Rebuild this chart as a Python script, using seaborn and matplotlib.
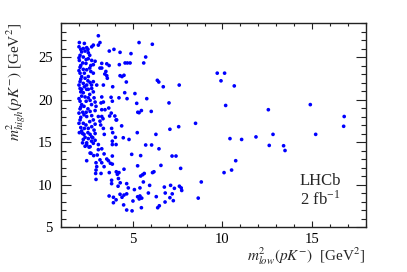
import matplotlib
matplotlib.use("Agg")
import matplotlib.pyplot as plt
import seaborn as sns
import pandas as pd
from matplotlib.ticker import MultipleLocator

# ---- data: (m2_low, m2_high) ----
x_band_top = [3.08, 2.02, 2.71, 2.80, 3.08, 3.17, 2.24, 2.43, 2.15, 2.34, 2.52, 2.06, 2.24, 2.52, 2.71,
              2.02, 2.21, 2.39, 2.90, 2.80, 2.66, 3.27, 3.17, 2.06, 2.24, 2.43, 2.66, 2.80, 2.06, 2.15,
              2.34, 2.52, 2.06, 2.24, 2.43, 2.62, 2.80, 2.99, 3.36, 2.15, 2.52]
y_band_top = [27.5, 26.7, 26.2, 26.4, 26.4, 26.7, 26.0, 26.1, 25.6, 25.7, 25.5, 25.2, 25.0, 24.8, 24.6,
              24.6, 24.3, 24.25, 24.5, 24.1, 24.0, 24.25, 23.7, 23.8, 23.55, 23.5, 23.3, 23.1, 23.1, 22.7,
              22.5, 22.7, 22.1, 21.9, 21.7, 22.0, 22.1, 21.7, 21.7, 21.2, 21.2]

x_band_mid = [2.06, 2.43, 2.80, 2.71, 2.24, 2.15, 2.34, 2.52, 2.62, 2.06, 2.15, 2.28, 2.84, 2.90, 2.95,
              2.06, 2.21, 2.28, 2.43, 2.62, 2.71, 2.80, 3.08, 3.17, 2.06, 2.24, 2.39, 2.52, 2.71, 2.84,
              2.15, 2.28, 2.62, 2.77, 2.02, 3.36, 3.41, 3.82, 3.88, 2.24, 2.43, 2.34, 3.08,
              2.34, 2.52, 2.71, 2.90, 2.80, 2.43, 2.62]
y_band_mid = [21.3, 21.2, 20.9, 21.3, 20.8, 20.4, 20.3, 20.2, 19.9, 19.8, 19.4, 19.2, 20.2, 19.7, 19.2,
              18.9, 18.5, 18.2, 18.0, 18.6, 18.1, 17.6, 18.0, 17.45, 17.6, 17.2, 17.0, 16.6, 16.8, 16.4,
              16.3, 15.9, 15.9, 15.5, 16.1, 16.6, 15.9, 16.6, 16.1, 15.3, 14.9, 14.5, 14.7,
              15.55, 15.4, 15.6, 15.2, 14.85, 14.65, 14.45]

x_band_fill = [2.00, 2.10, 2.00, 2.10, 2.00, 2.10, 2.00, 2.10, 2.00, 2.10, 2.00, 2.10, 2.00, 2.10, 2.20,
               2.30, 2.50, 2.60, 2.40, 2.60, 2.30, 2.50, 2.70, 2.30, 2.60, 2.40, 2.70, 2.50, 2.40, 2.90,
               2.60, 2.90, 2.30, 2.50, 2.90, 2.20, 2.70]
y_band_fill = [26.2, 25.9, 24.9, 24.0, 23.4, 22.4, 21.7, 20.9, 20.1, 19.1, 18.4, 17.9, 17.2, 16.7, 16.0,
               26.6, 25.9, 25.2, 24.7, 23.7, 23.1, 22.2, 21.7, 21.5, 20.6, 19.8, 19.4, 18.9, 18.5, 18.7,
               17.4, 17.1, 16.6, 16.1, 16.0, 14.9, 15.1]

x_low_left = [2.56, 3.08, 2.62, 2.67, 2.82, 3.02, 2.43, 2.95, 2.99, 2.95, 2.93, 2.95]
y_low_left = [14.4, 14.1, 13.7, 13.67, 13.4, 13.47, 12.8, 12.56, 12.1, 11.7, 11.3, 10.6]

x_upper = [5.35, 6.09, 3.95, 3.69, 4.29, 4.90, 5.72, 3.55, 3.68, 4.25, 4.57, 4.70, 4.85, 5.61, 3.27,
           3.50, 3.44, 3.55, 3.58, 4.29, 4.40, 4.51, 4.64, 6.37, 6.45, 6.70, 7.59, 3.88, 4.55, 5.12,
           4.23, 4.68, 5.78, 3.79, 3.86, 3.36, 3.23, 5.22, 7.02, 3.27, 3.66, 3.45, 3.27, 5.48, 5.35,
           5.28, 6.03, 3.80, 3.71, 4.00, 3.27, 3.34, 4.07, 4.10, 4.38, 7.56, 7.07, 8.50, 3.21, 5.25,
           6.29, 4.03, 4.47, 4.79]
y_upper = [26.7, 26.5, 25.9, 25.7, 25.55, 25.4, 25.0, 24.2, 24.0, 24.1, 24.3, 24.3, 24.3, 24.3, 23.7,
           23.3, 23.0, 22.8, 22.5, 22.8, 22.7, 22.85, 22.06, 22.26, 22.06, 21.5, 21.7, 21.5, 20.8, 20.7,
           20.2, 20.1, 20.1, 20.26, 19.8, 19.7, 19.6, 19.55, 19.6, 20.3, 19.0, 18.8, 18.8, 18.7, 18.45,
           18.5, 18.6, 18.4, 18.06, 18.06, 18.0, 17.74, 17.6, 17.6, 16.9, 16.8, 16.5, 17.2, 17.0, 16.1,
           15.9, 15.55, 15.5, 15.3]

x_lower = [3.86, 3.86, 4.07, 5.72, 6.05, 6.46, 3.27, 3.40, 3.86, 4.94, 5.44, 7.19, 7.41, 3.55, 3.64,
           3.75, 3.86, 3.17, 3.27, 3.40, 5.27, 6.57, 4.51, 3.69, 3.23, 4.08, 4.23, 4.14, 5.55, 5.44,
           5.64, 6.10, 6.18, 7.67, 3.82, 3.82, 4.20, 4.30, 5.59, 4.66, 4.18, 4.75, 5.09, 5.40, 5.94,
           6.76, 7.11, 7.32, 7.60, 7.70, 7.73, 5.87, 6.81, 7.20, 4.29, 4.51, 4.40, 4.66, 3.68, 5.27,
           5.40, 5.50, 5.36, 3.92, 4.07, 5.01, 6.31, 7.07, 7.26, 6.80, 3.92, 4.49, 6.48, 6.39, 5.48,
           4.66, 4.96, 8.65]
y_lower = [15.1, 14.7, 14.7, 14.65, 14.65, 14.2, 14.2, 13.6, 13.35, 13.55, 13.4, 13.35, 13.35, 13.0, 12.8,
           12.5, 12.4, 12.9, 12.56, 12.1, 12.2, 12.25, 11.8, 11.4, 11.3, 11.5, 11.4, 11.2, 11.15, 11.0,
           11.3, 11.4, 11.5, 11.9, 10.5, 10.1, 10.7, 10.2, 10.3, 10.1, 9.8, 9.6, 9.4, 9.6, 9.9,
           9.7, 9.9, 9.55, 9.8, 9.6, 9.3, 9.0, 9.0, 8.9, 8.85, 8.76, 8.5, 8.9, 8.65, 8.56,
           8.65, 8.4, 8.3, 8.5, 8.2, 8.06, 8.57, 8.45, 8.1, 7.94, 7.86, 7.6, 7.5, 7.27, 7.27,
           7.0, 6.9, 8.4]

x_right = [9.71, 10.12, 9.92, 10.66, 10.18, 12.56, 10.42, 11.07, 11.87, 12.82, 12.61, 13.41, 13.49, 10.74,
           10.51, 10.09, 8.82, 14.90, 16.79, 16.76, 15.20]
y_right = [23.1, 23.1, 22.2, 21.6, 19.3, 18.8, 15.4, 15.3, 15.6, 15.9, 14.6, 14.56, 14.0, 12.8,
           11.7, 11.4, 10.3, 19.4, 18.0, 16.85, 15.9]

x_ticks = [5, 10, 15]
y_ticks = [5, 10, 15, 20, 25]

xs = x_band_top + x_band_mid + x_band_fill + x_low_left + x_upper + x_lower + x_right
ys = y_band_top + y_band_mid + y_band_fill + y_low_left + y_upper + y_lower + y_right
df = pd.DataFrame({"m2low": xs, "m2high": ys})

sns.set_style("ticks")
plt.rcParams["font.family"] = ["Liberation Serif", "DejaVu Serif"]
plt.rcParams["mathtext.fontset"] = "stix"

fig = plt.figure(figsize=(4.07, 2.72), dpi=100)
ax = fig.add_axes([0.150, 0.1654, 0.749, 0.750])

sns.scatterplot(data=df, x="m2low", y="m2high", ax=ax, color="#0000ff",
                s=7, linewidth=0, edgecolor="none", legend=False)

ax.set_xlim(1, 18)
ax.set_ylim(5, 29)
ax.set_xticks(x_ticks)
ax.set_yticks(y_ticks)
ax.xaxis.set_minor_locator(MultipleLocator(1))
ax.yaxis.set_minor_locator(MultipleLocator(1))

for sp in ax.spines.values():
    sp.set_visible(True)
    sp.set_linewidth(1.0)
    sp.set_color("#222222")

ax.tick_params(axis="x", which="major", direction="in", top=True, bottom=True,
               length=4.5, width=0.8, labelsize=10.5, pad=4, colors="#222222", labelcolor="black")
ax.tick_params(axis="x", which="minor", direction="in", top=True, bottom=True,
               length=2.2, width=0.8, colors="#222222")
ax.tick_params(axis="y", which="major", direction="in", left=True, right=True,
               length=7.5, width=0.8, labelsize=10.5, pad=6, colors="#222222", labelcolor="black")
ax.tick_params(axis="y", which="minor", direction="in", left=True, right=True,
               length=3.6, width=0.8, colors="#222222")

ax.set_xlabel(r"$m^2_{low}(pK^{-})$  [GeV$^2$]", loc="right", fontsize=11, labelpad=0)
ax.set_ylabel(r"$m^2_{high}(pK^{-})$ [GeV$^2$]", loc="top", fontsize=11, labelpad=7)

ax.text(14.3, 10.45, "LHCb", fontsize=12, ha="left", va="center")
ax.text(14.3, 8.3, r"2 fb$^{\mathregular{-1}}$", fontsize=12, ha="left", va="center")

fig.savefig("out.png", dpi=100)
